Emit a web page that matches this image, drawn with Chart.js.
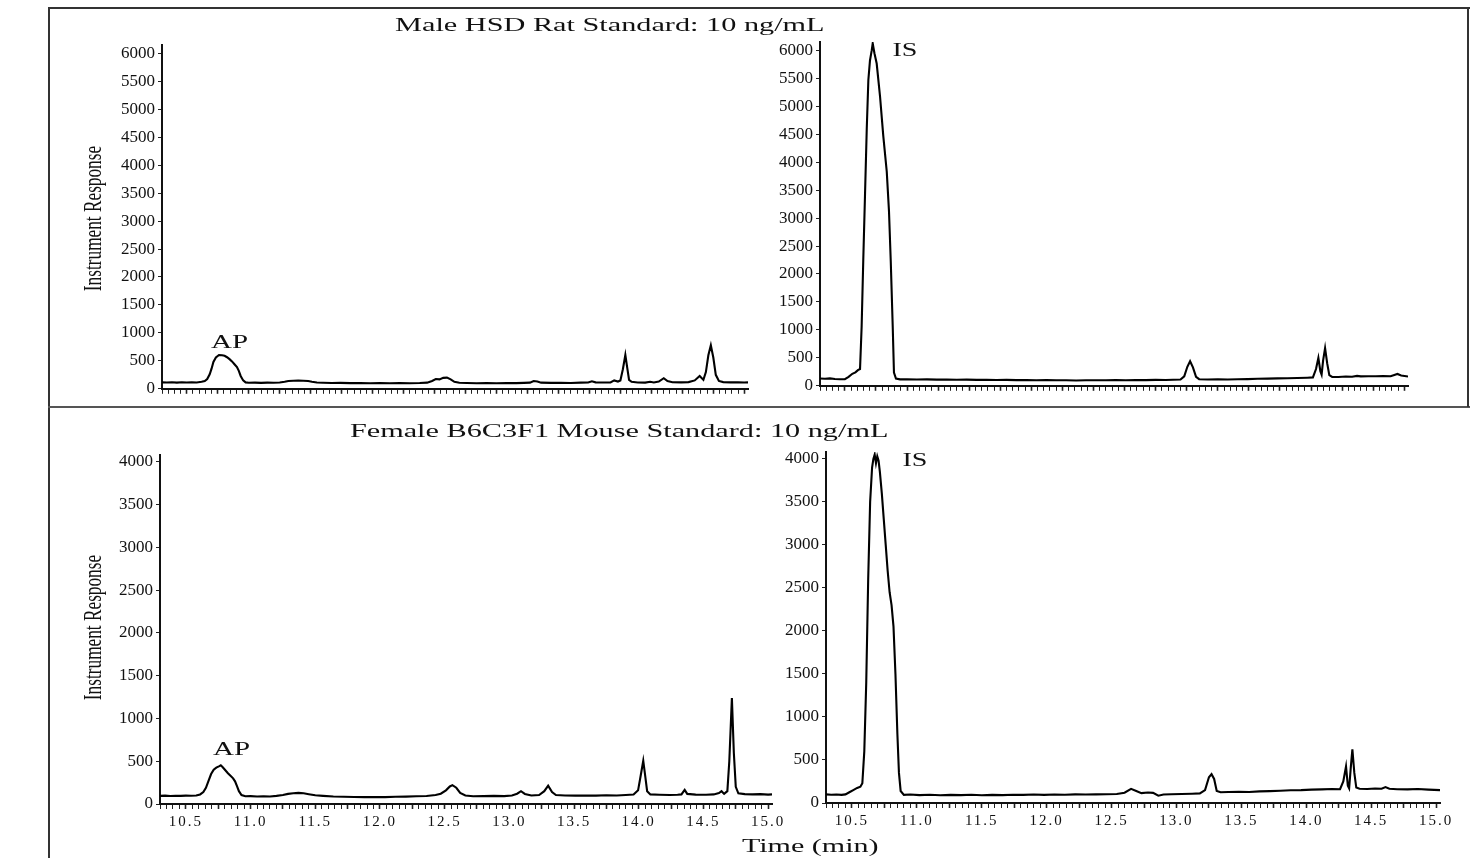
<!DOCTYPE html>
<html><head><meta charset="utf-8">
<script src="https://cdn.jsdelivr.net/npm/chart.js@4.4.1/dist/chart.umd.min.js"></script>
<style>
html,body{margin:0;padding:0;background:#fff;width:1470px;height:858px;overflow:hidden;position:relative;}
canvas{position:absolute;}
.ln{position:absolute;background:#333;}
.t{position:absolute;font-family:"Liberation Serif","Times New Roman",serif;color:#111;white-space:nowrap;line-height:1;}
</style></head><body>
<div class="ln" style="left:48px;top:7px;width:1422px;height:2px;"></div>
<div class="ln" style="left:48px;top:7px;width:2px;height:851px;"></div>
<div class="ln" style="left:48px;top:406px;width:1422px;height:2px;background:#555;"></div>
<div class="ln" style="left:1467px;top:7px;width:2px;height:400px;"></div>
<canvas id="c1"></canvas><canvas id="c2"></canvas><canvas id="c3"></canvas><canvas id="c4"></canvas>
<script>
// ---- data (time in min, instrument response) ----
const ratApTime = [10.30,10.34,10.38,10.42,10.46,10.50,10.54,10.58,10.62,10.645,10.665,10.685,10.70,10.715,10.735,10.76,10.785,10.805,10.825,10.845,10.865,10.885,10.905,10.92,10.935,10.955,10.975,11.00,11.05,11.10,11.15,11.20,11.25,11.29,11.32,11.36,11.40,11.44,11.48,11.51,11.55,11.60,11.67,11.74,11.82,11.90,11.98,12.06,12.14,12.22,12.30,12.38,12.44,12.48,12.51,12.54,12.57,12.60,12.63,12.66,12.70,12.76,12.84,12.92,13.00,13.08,13.16,13.22,13.27,13.30,13.33,13.36,13.44,13.52,13.60,13.68,13.74,13.77,13.80,13.87,13.92,13.95,13.98,14.00,14.02,14.04,14.055,14.07,14.09,14.14,14.20,14.24,14.27,14.31,14.35,14.38,14.42,14.49,14.55,14.60,14.64,14.67,14.69,14.71,14.73,14.75,14.77,14.795,14.83,14.89,14.95,15.00,15.03];
const ratApResp = [115,112,118,110,116,112,118,114,125,140,175,260,360,480,560,605,600,590,565,530,490,440,390,320,230,150,115,108,110,106,110,108,112,125,140,145,148,145,140,125,112,108,104,106,102,104,100,102,98,102,100,104,110,140,175,168,195,200,170,125,108,104,100,102,100,104,102,106,110,140,130,110,106,108,105,110,112,135,115,112,115,150,130,150,350,605,380,160,125,112,110,125,112,130,190,140,118,115,120,150,230,160,300,600,780,560,250,140,120,115,118,112,115];

const ratIsTime = [10.30,10.34,10.38,10.42,10.46,10.50,10.53,10.56,10.585,10.605,10.622,10.635,10.648,10.662,10.676,10.689,10.702,10.716,10.724,10.738,10.756,10.783,10.809,10.837,10.855,10.869,10.885,10.895,10.911,10.944,11.00,11.08,11.16,11.24,11.32,11.40,11.48,11.56,11.64,11.72,11.80,11.88,11.96,12.04,12.12,12.20,12.28,12.36,12.44,12.52,12.60,12.68,12.76,12.84,12.92,13.00,13.08,13.14,13.20,13.23,13.255,13.277,13.30,13.325,13.35,13.42,13.50,13.58,13.66,13.74,13.82,13.90,13.98,14.06,14.14,14.22,14.265,14.29,14.309,14.325,14.335,14.347,14.363,14.38,14.397,14.42,14.47,14.53,14.58,14.62,14.65,14.71,14.77,14.83,14.89,14.92,14.945,14.975,15.03];
const ratIsResp = [130,125,132,122,118,120,160,215,240,280,300,1060,2240,3410,4590,5470,5820,6000,6125,5950,5765,5175,4470,3830,3120,2240,1060,235,130,115,118,112,115,110,112,108,110,106,108,104,106,102,104,100,102,98,100,96,98,100,98,102,100,104,102,106,104,108,112,170,340,440,330,160,118,112,115,112,118,120,125,128,132,135,140,145,150,300,500,260,200,450,675,400,190,160,158,165,162,178,168,170,172,175,170,195,212,185,165];

const mouseApTime = [10.30,10.34,10.38,10.42,10.46,10.50,10.54,10.58,10.61,10.635,10.655,10.675,10.695,10.715,10.735,10.755,10.77,10.785,10.805,10.825,10.845,10.865,10.88,10.895,10.91,10.93,10.96,11.00,11.05,11.10,11.15,11.20,11.25,11.29,11.33,11.37,11.41,11.45,11.50,11.56,11.64,11.72,11.80,11.88,11.96,12.04,12.12,12.20,12.28,12.36,12.43,12.47,12.51,12.54,12.56,12.59,12.62,12.66,12.72,12.80,12.88,12.96,13.02,13.06,13.09,13.12,13.17,13.23,13.27,13.30,13.33,13.36,13.43,13.51,13.59,13.67,13.75,13.83,13.90,13.96,13.995,14.015,14.035,14.05,14.065,14.09,14.16,14.24,14.30,14.33,14.355,14.375,14.44,14.52,14.58,14.62,14.64,14.66,14.685,14.70,14.72,14.735,14.75,14.77,14.82,14.88,14.94,15.00,15.03];
const mouseApResp = [95,98,94,97,95,98,96,100,112,140,190,270,350,400,425,440,452,430,395,360,330,300,265,210,150,105,90,92,88,90,88,95,105,118,125,130,126,115,102,95,88,85,82,80,82,80,84,86,90,94,105,120,160,205,220,190,130,100,90,92,95,92,100,120,150,118,100,105,150,215,140,105,100,98,100,98,102,100,105,110,160,330,505,330,150,112,108,105,108,112,165,118,110,108,112,128,150,118,150,500,1240,600,200,125,115,112,115,110,112];

const mouseIsTime = [10.30,10.34,10.38,10.42,10.45,10.48,10.51,10.54,10.565,10.58,10.595,10.61,10.625,10.64,10.655,10.665,10.675,10.685,10.695,10.705,10.715,10.73,10.745,10.76,10.775,10.79,10.805,10.82,10.835,10.85,10.862,10.875,10.90,10.95,11.02,11.10,11.18,11.26,11.34,11.42,11.50,11.58,11.66,11.74,11.82,11.90,11.98,12.06,12.14,12.22,12.30,12.38,12.46,12.54,12.60,12.65,12.69,12.73,12.78,12.82,12.86,12.90,12.96,13.04,13.12,13.18,13.22,13.25,13.27,13.29,13.31,13.34,13.40,13.48,13.56,13.64,13.72,13.80,13.88,13.96,14.04,14.12,14.20,14.26,14.285,14.306,14.32,14.33,14.342,14.355,14.37,14.385,14.41,14.47,14.53,14.58,14.61,14.64,14.70,14.78,14.86,14.94,15.03];
const mouseIsResp = [100,96,98,94,100,125,150,175,190,230,600,1400,2600,3500,3900,4000,4050,3950,4030,3980,3850,3600,3300,3000,2700,2450,2300,2050,1500,800,350,140,95,98,92,96,90,94,92,96,90,94,92,96,94,98,95,98,96,100,98,100,102,105,120,165,140,115,122,118,85,98,102,105,108,112,150,300,335,280,140,125,128,130,128,135,138,142,148,150,155,158,162,160,250,425,200,170,400,625,350,180,165,162,168,165,185,165,160,158,162,155,150];

// ---- tick labels ----
const timeTickLabels = [10.5,11.0,11.5,12.0,12.5,13.0,13.5,14.0,14.5,15.0];
const ratYTicks = [0,500,1000,1500,2000,2500,3000,3500,4000,4500,5000,5500,6000];
const mouseYTicks = [0,500,1000,1500,2000,2500,3000,3500,4000];
const TIME_MIN = 10.30, TIME_MAX = 15.03;

// minor tick marks every 0.05 min
const tickMarks = [];
for (let k = 206; k <= 300; k++) tickMarks.push(+(k * 0.05).toFixed(2));

const FONT = '"Liberation Serif","Times New Roman",serif';
const Y_W = 70, PAD_T = 14, PAD_R = 30;

const lsPlugin = {
  id: 'ls',
  afterDatasetsDraw(chart) { chart.ctx.letterSpacing = '2px'; },
  afterDraw(chart) { chart.ctx.letterSpacing = '0px'; }
};

function makePanel(p) {
  const xH = p.labels ? 34 : 9;
  const cv = document.getElementById(p.id);
  const W = p.PR - p.PL + Y_W + PAD_R;
  const H = p.PB - p.PT + PAD_T + xH;
  cv.width = W; cv.height = H;
  cv.style.width = W + 'px'; cv.style.height = H + 'px';
  cv.style.left = (p.PL - Y_W) + 'px'; cv.style.top = (p.PT - PAD_T) + 'px';
  new Chart(cv, {
    type: 'line',
    data: { datasets: [{
      data: p.xs.map((x, i) => ({ x: x, y: p.ys[i] })),
      borderColor: '#000', borderWidth: 2.1, pointRadius: 0, tension: 0, fill: false
    }]},
    options: {
      responsive: false, animation: false, events: [],
      layout: { padding: { top: PAD_T, right: PAD_R, left: 0, bottom: 0 } },
      plugins: { legend: { display: false }, tooltip: { enabled: false } },
      scales: {
        x: {
          type: 'linear', min: TIME_MIN, max: TIME_MAX,
          afterBuildTicks: s => { s.ticks = tickMarks.map(v => ({ value: v })); },
          afterFit: s => { s.height = xH; },
          grid: { drawOnChartArea: false, drawTicks: true, tickLength: 5, tickColor: '#222',
                  tickWidth: c => (c.tick && Math.abs(c.tick.value * 4 - Math.round(c.tick.value * 4)) < 1e-6) ? 1.6 : 1 },
          border: { display: true, color: '#111', width: 2 },
          ticks: {
            display: p.labels, autoSkip: false, maxRotation: 0, minRotation: 0, padding: 4, z: 1,
            color: '#111', font: { family: FONT, size: 15 },
            callback: v => timeTickLabels.some(t => Math.abs(t - v) < 1e-6) ? v.toFixed(1) : ''
          }
        },
        y: {
          min: 0, max: p.ymax,
          afterBuildTicks: s => { s.ticks = p.yticks.map(v => ({ value: v })); },
          afterFit: s => { s.width = Y_W; },
          grid: { drawOnChartArea: false, drawTicks: true, tickLength: 4, tickColor: '#222' },
          border: { display: true, color: '#111', width: 2 },
          ticks: { padding: 3, color: '#111', font: { family: FONT, size: 17 }, callback: v => String(v) }
        }
      }
    },
    plugins: [lsPlugin]
  });
}

makePanel({ id: 'c1', PL: 162, PR: 748, PT: 45, PB: 393, ymax: 6150, yticks: ratYTicks, labels: false, xs: ratApTime, ys: ratApResp });
makePanel({ id: 'c2', PL: 820, PR: 1408, PT: 42, PB: 390, ymax: 6150, yticks: ratYTicks, labels: false, xs: ratIsTime, ys: ratIsResp });
makePanel({ id: 'c3', PL: 160, PR: 772, PT: 455, PB: 804, ymax: 4080, yticks: mouseYTicks, labels: true, xs: mouseApTime, ys: mouseApResp });
makePanel({ id: 'c4', PL: 826, PR: 1440, PT: 452, PB: 803, ymax: 4080, yticks: mouseYTicks, labels: true, xs: mouseIsTime, ys: mouseIsResp });

// ---- text ----
function placeText(txt, cx, cy, targetW, fontPx, rotate) {
  const d = document.createElement('div');
  d.className = 't'; d.textContent = txt; d.style.fontSize = fontPx + 'px';
  document.body.appendChild(d);
  const w = d.offsetWidth, h = d.offsetHeight;
  d.style.left = (cx - w / 2) + 'px'; d.style.top = (cy - h / 2) + 'px';
  d.style.transformOrigin = 'center center';
  d.style.transform = (rotate ? 'rotate(-90deg) ' : '') + 'scaleX(' + (targetW / w) + ')';
}
placeText('Male HSD Rat Standard: 10 ng/mL', 610, 24, 430, 19, false);
placeText('Female B6C3F1 Mouse Standard: 10 ng/mL', 619, 430, 538, 19, false);
placeText('Time (min)', 810, 845, 136, 19, false);
placeText('Instrument Response', 92, 218, 145, 25, true);
placeText('Instrument Response', 92, 627, 145, 25, true);
placeText('AP', 229, 342, 37, 18, false);
placeText('AP', 231, 749, 37, 18, false);
placeText('IS', 905, 50, 25, 18, false);
placeText('IS', 915, 460, 25, 18, false);
</script>
</body></html>
